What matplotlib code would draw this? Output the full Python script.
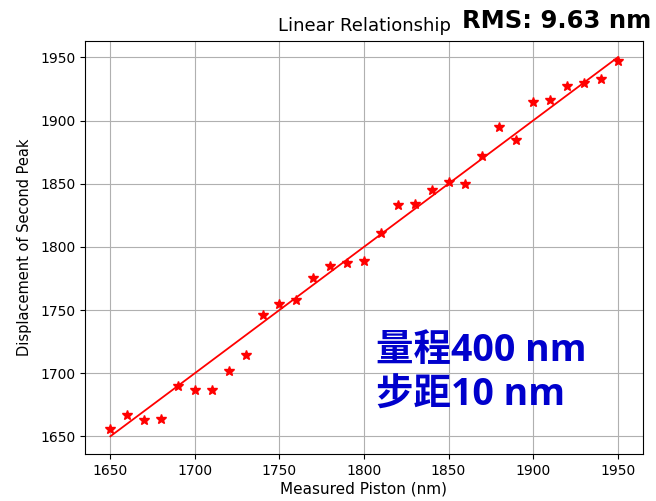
import numpy as np
import matplotlib
matplotlib.use("Agg")
import matplotlib.pyplot as plt

piston = [1650, 1660, 1670, 1680, 1690, 1700, 1710, 1720, 1730, 1740,
          1750, 1760, 1770, 1780, 1790, 1800, 1810, 1820, 1830, 1840,
          1850, 1860, 1870, 1880, 1890, 1900, 1910, 1920, 1930, 1940, 1950]
peak = [1656, 1667, 1663, 1664, 1690, 1687, 1687, 1702, 1714, 1746,
        1755, 1758, 1775, 1785, 1787, 1789, 1811, 1833, 1834, 1845,
        1851, 1850, 1872, 1895, 1885, 1915, 1916, 1927, 1930, 1933, 1947]

x = np.array(piston)
y = np.array(peak)

fig = plt.figure(figsize=(6.56, 5.01), dpi=100)
ax = fig.add_axes([85 / 656, 1 - 454 / 501, 558 / 656, 413 / 501])

ax.plot(x, y, "r*", markersize=7)
# ideal 1:1 line
ax.plot(x, x, color="red", lw=1.3)
ax.set_xlim(1635, 1965)
ax.set_ylim(1636, 1963)
ax.set_xticks([1650, 1700, 1750, 1800, 1850, 1900, 1950])
ax.set_yticks([1650, 1700, 1750, 1800, 1850, 1900, 1950])
ax.grid(True, color="#b0b0b0", lw=0.8)
ax.set_title("Linear Relationship", fontsize=13, pad=7)
ax.set_xlabel("Measured Piston (nm)", fontsize=11, labelpad=3)
ax.set_ylabel("Displacement of Second Peak", fontsize=10.5, labelpad=6)

fig.text(0.992, 1 - 21 / 501, "RMS: 9.63 nm", ha="right", va="center",
         fontsize=17.5, fontweight="bold", family="DejaVu Sans")
cjk = ["Open Sans", "Noto Sans CJK SC", "DejaVu Sans"]
fig.text(376 / 656, 1 - 351 / 501, "量程400 nm", ha="left", va="center",
         fontsize=27, fontweight="bold", color="#0000cc", family=cjk)
fig.text(376 / 656, 1 - 396 / 501, "步距10 nm", ha="left", va="center",
         fontsize=27, fontweight="bold", color="#0000cc", family=cjk)

fig.savefig("out.png", dpi=100)
